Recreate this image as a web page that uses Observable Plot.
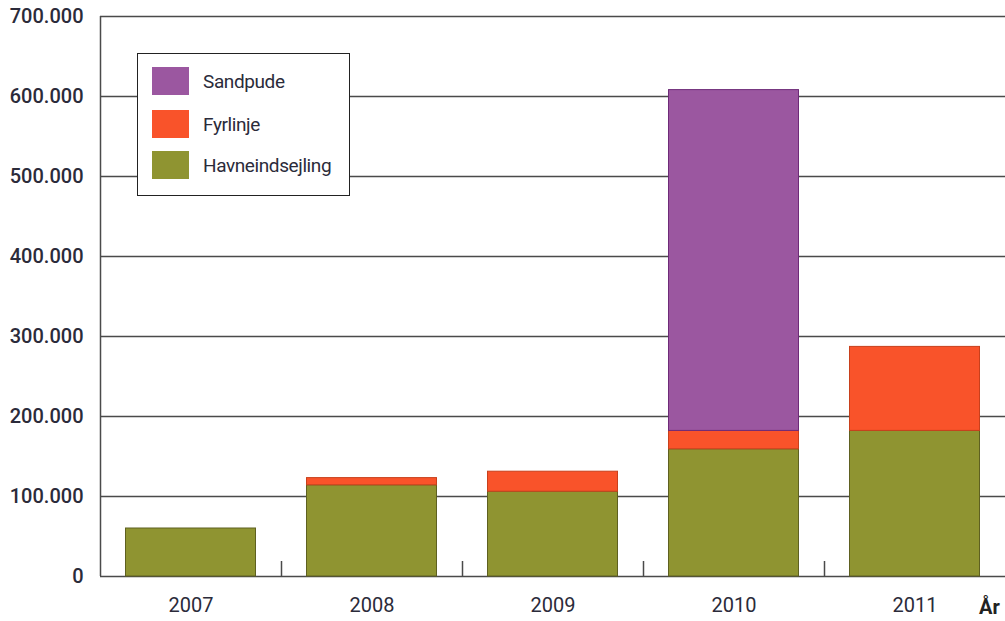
<!DOCTYPE html>
<html><head><meta charset="utf-8">
<script src="https://cdn.jsdelivr.net/npm/d3@7"></script>
<script src="https://cdn.jsdelivr.net/npm/@observablehq/plot@0.6"></script>
<style>
body{margin:0;background:#fff;}
#wrap{position:relative;width:1005px;height:621px;overflow:hidden;font-family:Roboto,"Noto Sans",sans-serif;}
#legend{position:absolute;left:137px;top:53px;width:213px;height:143px;box-sizing:border-box;border:1.5px solid #222;background:#fff;}
.item{position:absolute;left:14px;height:28px;display:flex;align-items:center;font-size:19px;letter-spacing:-0.4px;color:#2b2b3a;}
.sw{width:37px;height:28px;margin-right:14px;}
#ar{position:absolute;left:979px;top:595px;font-size:20px;font-weight:bold;color:#222;}
</style>
</head><body><div id="wrap"></div>
<script>
const years = ["2007","2008","2009","2010","2011"];
const seriesNames = ["Havneindsejling","Fyrlinje","Sandpude"];
const havneindsejling = [60000,114000,106000,159000,182000];
const fyrlinje = [0,9000,25000,23000,105000];
const sandpude = [0,0,0,426000,0];
const yTicks = [0,100000,200000,300000,400000,500000,600000,700000];
const fills = {Havneindsejling:"#8f9431", Fyrlinje:"#f9532a", Sandpude:"#9b57a0"};
const strokes = {Havneindsejling:"#5e6020", Fyrlinje:"#c8401c", Sandpude:"#6e2a78"};

const valuesBySeries = {Havneindsejling:havneindsejling, Fyrlinje:fyrlinje, Sandpude:sandpude};
const rows = years.flatMap((yr,i)=>seriesNames.map(s=>({year:yr, series:s, value:valuesBySeries[s][i]}))).filter(d=>d.value>0);
const fmt = d3.formatLocale({decimal:",",thousands:".",grouping:[3],currency:["","kr"]}).format(",");

const chart = Plot.plot({
  width:1005, height:621,
  marginLeft:100, marginRight:0, marginTop:16, marginBottom:45,
  style:{fontFamily:"Roboto, 'Noto Sans', sans-serif", fontSize:"20px", color:"#2b2b3a", background:"white"},
  x:{domain:years, padding:0},
  y:{domain:[0,700000]},
  color:{type:"identity"},
  marks:[
    Plot.ruleY(yTicks,{stroke:"#4a4a4a",strokeWidth:1.5}),
    Plot.ruleX([years[0]],{dx:-90.5, stroke:"#4a4a4a", strokeWidth:1.5}),
    Plot.ruleX(years.slice(1),{dx:-90.5, y1:0, y2:18750, stroke:"#4a4a4a", strokeWidth:1.5}),
    Plot.barY(rows,{x:"year", y:"value", z:"series", fill:d=>fills[d.series], stroke:d=>strokes[d.series], strokeWidth:1, insetLeft:25.5, insetRight:25.5}),
    Plot.axisY({ticks:yTicks, tickFormat:fmt, tickSize:0, tickPadding:17, fontSize:20, fontWeight:500, label:null}),
    Plot.axisX({tickSize:0, tickPadding:21, fontSize:20, label:null})
  ]
});
const wrap = document.getElementById("wrap");
wrap.appendChild(chart);

const legend = document.createElement("div");
legend.id = "legend";
const legendOrder = ["Sandpude","Fyrlinje","Havneindsejling"];
const tops = [13, 56, 97];
legendOrder.forEach((s,i)=>{
  const it = document.createElement("div");
  it.className = "item";
  it.style.top = tops[i] + "px";
  const sw = document.createElement("div");
  sw.className = "sw";
  sw.style.background = fills[s];
  const t = document.createElement("span");
  t.textContent = s;
  it.appendChild(sw); it.appendChild(t);
  legend.appendChild(it);
});
wrap.appendChild(legend);

const ar = document.createElement("div");
ar.id = "ar";
ar.textContent = "År";
wrap.appendChild(ar);
</script>
</body></html>
